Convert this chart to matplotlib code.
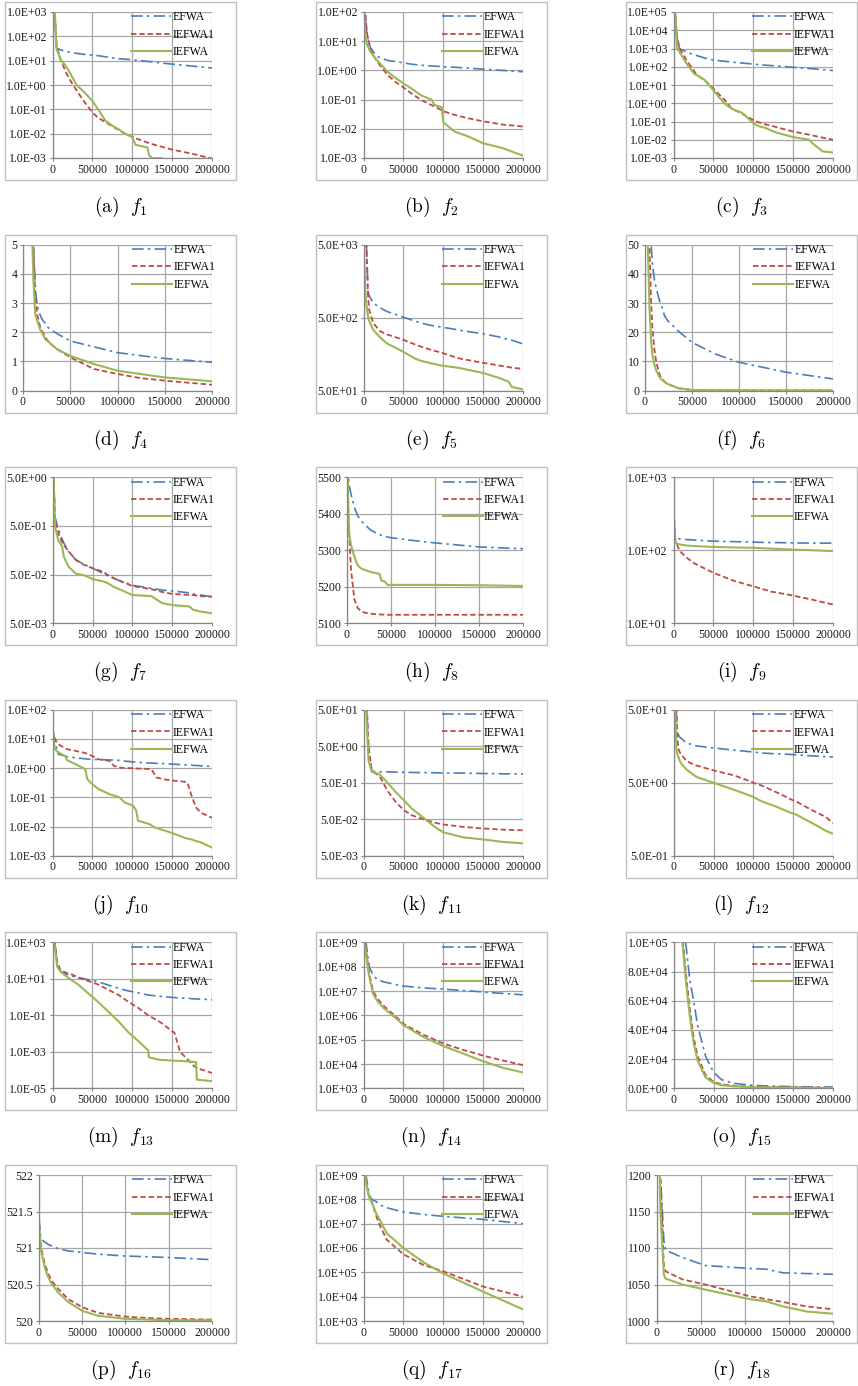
"""Convergence curves of EFWA / IEFWA1 / IEFWA on f1..f18, redrawn as an 6x3 grid."""

import matplotlib

matplotlib.use("Agg")
import matplotlib.pyplot as plt
import numpy as np
from matplotlib.patches import Rectangle
from matplotlib.ticker import FixedLocator, FuncFormatter, NullLocator

nan = np.nan

# ---------------------------------------------------------------------------
# Data (function evaluations vs. best fitness)
# ---------------------------------------------------------------------------

F1_X = [0, 2000, 5000, 10000, 15000, 20000, 30000, 40000, 50000, 57000, 66000, 75000,
        83000, 91000, 100000, 104000, 119000, 121000, 125000, 137000, 150000, 175000, 200000]
F1_EFWA = [5000, 1200, 32, 28, 25, 23, 20, 18, 17, 16, 14.5, 13,
           12, 11.5, 11, 10.5, 9.3, 9.2, 9, 8, 7.2, 6, 5]
F1_IEFWA1 = [5000, 3000, 40, 11, 4.5, 2.0, 0.6, 0.2, 0.074, 0.045, 0.03, 0.02,
             0.014, 0.01, 0.0075, 0.0065, 0.0043, 0.0041, 0.0037, 0.0029, 0.0022, 0.0015, 0.00095]
F1_IEFWA = [5000, 3000, 30, 11, 7, 4, 1.0, 0.5, 0.22, 0.1, 0.035, 0.021,
            0.015, 0.01, 0.0072, 0.0035, 0.0027, 0.0013, 0.00099, 0.00098, nan, nan, nan]

F2_X = [0, 2000, 4000, 8500, 13000, 17000, 30000, 40000, 51000, 59000, 72000, 85000,
        89000, 98000, 100000, 114000, 131000, 150000, 174000, 200000]
F2_EFWA = [300, 100, 18, 6, 4, 3, 2.2, 2.0, 1.8, 1.65, 1.5, 1.42,
           1.4, 1.35, 1.33, 1.28, 1.2, 1.1, 1.0, 0.9]
F2_IEFWA1 = [300, 100, 20, 5, 3, 2.0, 0.7, 0.4, 0.25, 0.17, 0.098, 0.065,
             0.058, 0.043, 0.04, 0.03, 0.023, 0.018, 0.014, 0.012]
F2_IEFWA = [150, 18, 8, 4.3, 3, 2.2, 0.9, 0.55, 0.34, 0.25, 0.14, 0.1,
            0.065, 0.055, 0.017, 0.008, 0.0055, 0.0032, 0.0022, 0.0012]

F3_X = [0, 2000, 4000, 7000, 9000, 18000, 26000, 30000, 39000, 50000, 64000, 73000,
        86000, 100000, 107000, 115000, 124000, 130000, 150000, 170000, 175000, 187000, 200000]
F3_EFWA = [1e6, 1e5, 5000, 1100, 900, 600, 450, 400, 300, 230, 200, 180,
           160, 140, 130, 122, 115, 110, 93, 80, 77, 70, 62]
F3_IEFWA1 = [1e6, 1e5, 5000, 1200, 750, 175, 55, 33, 18, 6.3, 1.5, 0.5,
             0.27, 0.12, 0.09, 0.07, 0.056, 0.048, 0.028, 0.019, 0.017, 0.013, 0.01]
F3_IEFWA = [1e6, 1e5, 1100, 700, 490, 115, 40, 33, 19, 5, 0.95, 0.5,
            0.3, 0.08, 0.055, 0.045, 0.03, 0.024, 0.014, 0.01, 0.006, 0.0023, 0.002]

F4_X = [0, 10000, 11000, 13000, 15000, 18000, 20000, 23500, 25000, 29000, 36000,
        50000, 75000, 100000, 124000, 150000, 200000]
F4_EFWA = [20, 8, 5, 3.5, 2.9, 2.6, 2.45, 2.3, 2.2, 2.1, 1.95, 1.7, 1.5, 1.3, 1.2, 1.1, 0.97]
F4_IEFWA1 = [20, 8, 5, 3.2, 2.6, 2.2, 2.05, 1.85, 1.76, 1.6, 1.42, 1.14, 0.74, 0.57, 0.43, 0.34, 0.2]
F4_IEFWA = [20, 5, 3.8, 2.6, 2.4, 2.1, 2.0, 1.76, 1.72, 1.62, 1.42, 1.19, 0.91, 0.68, 0.57, 0.45, 0.32]

F5_X = [0, 2500, 3500, 5500, 7000, 12000, 21000, 29000, 49000, 64000, 72000, 85000,
        98000, 115000, 120000, 146000, 150000, 171000, 182000, 186000, 200000]
F5_EFWA = [2e4, 8000, 5000, 1145, 1000, 790, 680, 608, 510, 450, 420, 390,
           370, 345, 335, 305, 300, 270, 250, 245, 218]
F5_IEFWA1 = [2e4, 1e4, 5000, 1000, 640, 420, 324, 295, 250, 215, 200, 180,
             165, 143, 138, 122, 120, 110, 105, 103, 99]
F5_IEFWA = [5000, 975, 750, 520, 450, 340, 265, 222, 172, 138, 128, 118,
            110, 104, 102, 89, 87, 74, 66, 56, 52]

F6_X = [0, 3000, 4700, 6500, 8000, 10000, 12000, 15500, 17000, 21000, 24000, 35000,
        50000, 75000, 100000, 150000, 200000]
F6_EFWA = [200, 100, 70, 50, 43, 38, 35, 30.7, 29.5, 25.5, 24, 20.5, 16.5, 12.5, 9.7, 6.3, 4]
F6_IEFWA1 = [200, 80, 50, 30, 21, 14, 9.7, 5.5, 4.5, 3.0, 2.3, 0.8, 0.2, 0.1, 0.08, 0.06, 0.05]
F6_IEFWA = [200, 50, 29, 17, 12, 9, 6.8, 4.6, 4, 2.9, 2.3, 0.9, 0.2, 0.1, 0.08, 0.06, 0.05]

F7_X = [0, 1000, 3000, 7000, 11700, 14000, 20000, 29000, 40000, 50600, 63600, 68000,
        76600, 81000, 100000, 124000, 137000, 150000, 172000, 176000, 185000, 200000]
F7_EFWA = [20, 5, 0.76, 0.42, 0.27, 0.22, 0.148, 0.1, 0.08, 0.067, 0.052, 0.048,
           0.042, 0.039, 0.03, 0.026, 0.024, 0.023, 0.021, 0.02, 0.019, 0.0175]
F7_IEFWA1 = [20, 5, 0.62, 0.36, 0.23, 0.2, 0.15, 0.1, 0.078, 0.067, 0.057, 0.05,
             0.042, 0.039, 0.029, 0.025, 0.022, 0.02, 0.019, 0.019, 0.018, 0.0175]
F7_IEFWA = [20, 5, 0.47, 0.25, 0.19, 0.115, 0.072, 0.052, 0.048, 0.04, 0.036, 0.034,
            0.028, 0.026, 0.019, 0.018, 0.013, 0.0118, 0.011, 0.0095, 0.0087, 0.008]

F8_X = [0, 700, 1500, 2000, 2700, 4600, 8400, 12000, 16000, 20000, 27600, 35000,
        37000, 39000, 43000, 46000, 50600, 73600, 100000, 150000, 200000]
F8_EFWA = [5600, 5560, 5500, 5490, 5475, 5453, 5417, 5395, 5381, 5370, 5354, 5345,
           5343, 5341, 5338, 5336, 5334, 5327, 5320, 5309, 5304]
F8_IEFWA1 = [5600, 5500, 5420, 5370, 5336, 5246, 5165, 5142, 5133, 5129, 5126, 5124,
             5124, 5124, 5123, 5123, 5123, 5123, 5123, 5123, 5123]
F8_IEFWA = [5600, 5500, 5400, 5363, 5340, 5314, 5282, 5259, 5250, 5246, 5240, 5236,
            5235, 5217, 5214, 5205, 5205, 5205, 5205, 5204, 5202]

F9_X = [0, 1700, 2500, 7700, 16000, 25000, 50000, 76000, 100000, 123000, 132000,
        149000, 174000, 200000]
F9_EFWA = [442, 147, 146, 143, 140, 138, 133, 131, 129, 127, 127, 126, 125, 125]
F9_IEFWA1 = [442, 160, 133, 98, 80, 67, 49, 38, 32, 27, 26, 24, 21, 18]
F9_IEFWA = [442, 135, 126, 120, 116, 114, 111, 109, 108, 105, 104, 102, 100, 97]

F10_X = [0, 2000, 3000, 5000, 7200, 15700, 18000, 33000, 41000, 43500, 50000, 58000,
         71000, 77000, 84000, 90000, 101000, 105000, 107000, 122000, 124000, 128000,
         130000, 143000, 150000, 167000, 169000, 175000, 180000, 186000, 200000]
F10_EFWA = [19, 11, 8.7, 5, 3.0, 2.6, 2.5, 2.2, 2.1, 2.05, 2.0, 1.97,
            1.92, 1.9, 1.85, 1.75, 1.65, 1.62, 1.6, 1.5, 1.5, 1.48,
            1.47, 1.42, 1.38, 1.3, 1.29, 1.26, 1.24, 1.21, 1.15]
F10_IEFWA1 = [21.7, 12, 10, 8, 6.6, 4.8, 4.5, 3.7, 3.3, 3.1, 2.6, 2.0,
              1.8, 1.2, 1.05, 1.02, 1.0, 0.98, 0.97, 0.94, 0.93, 0.6,
              0.48, 0.4, 0.38, 0.34, 0.33, 0.1, 0.045, 0.03, 0.02]
F10_IEFWA = [21.7, 6.6, 4.5, 3.9, 3.5, 2.6, 1.9, 1.2, 0.93, 0.42, 0.28, 0.19,
             0.13, 0.115, 0.1, 0.068, 0.052, 0.035, 0.016, 0.012, 0.011, 0.0093,
             0.009, 0.007, 0.006, 0.004, 0.0039, 0.0036, 0.0032, 0.0029, 0.0019]

F11_X = [0, 3000, 6000, 10000, 12000, 20000, 30000, 40000, 50000, 60000, 75000,
         90000, 100000, 125000, 150000, 175000, 200000]
F11_EFWA = [500, 100, 5, 1.05, 1.03, 1.0, 1.0, 0.98, 0.97, 0.96, 0.95,
            0.94, 0.93, 0.92, 0.9, 0.88, 0.87]
F11_IEFWA1 = [500, 200, 5, 1.1, 1.0, 0.75, 0.3, 0.15, 0.09, 0.065, 0.05,
              0.04, 0.036, 0.031, 0.028, 0.026, 0.025]
F11_IEFWA = [500, 50, 2, 1.0, 0.98, 0.85, 0.5, 0.28, 0.17, 0.1, 0.055,
             0.03, 0.022, 0.016, 0.014, 0.012, 0.011]

F12_X = [0, 1700, 3400, 4300, 5500, 7700, 10000, 16000, 25000, 29000, 50000, 76000,
         97000, 100000, 110000, 127000, 149000, 153000, 174000, 191000, 200000]
F12_EFWA = [200, 100, 40, 25, 23, 21, 20, 17.5, 16.5, 16, 15, 14,
            13.3, 13.2, 12.8, 12.5, 12.2, 12.1, 11.7, 11.4, 11.3]
F12_IEFWA1 = [200, 150, 50, 25, 15, 13, 12, 9.9, 8.9, 8.6, 7.4, 6.3,
              5.2, 5.0, 4.6, 3.8, 2.9, 2.8, 2.1, 1.7, 1.4]
F12_IEFWA = [100, 50, 14.3, 12.5, 11.5, 9.9, 9, 7.6, 6.4, 6.0, 5.0, 4.0,
             3.3, 3.2, 2.8, 2.4, 1.9, 1.85, 1.4, 1.1, 1.0]

F13_X = [0, 3000, 6000, 10000, 19000, 25000, 32000, 57000, 83000, 95000, 108000,
         120000, 121000, 134000, 153000, 160000, 172000, 178000, 180000, 181000, 200000]
F13_EFWA = [1e4, 1000, 60, 25, 17, 14, 12, 7, 3, 2.2, 1.7,
            1.3, 1.3, 1.1, 0.95, 0.9, 0.85, 0.8, 0.8, 0.8, 0.72]
F13_IEFWA1 = [1e4, 1000, 80, 30, 20, 17, 12, 5, 1.3, 0.56, 0.25,
              0.1, 0.095, 0.046, 0.011, 0.001, 3e-4, 1.6e-4, 1.4e-4, 1.3e-4, 7e-5]
F13_IEFWA = [1e4, 500, 45, 25, 12, 8, 5, 0.56, 0.046, 0.012, 3.8e-3,
             1.2e-3, 5e-4, 3.7e-4, 3.3e-4, 3.2e-4, 3e-4, 2.8e-4, 2.8e-4, 3e-5, 2.5e-5]

F14_X = [0, 3000, 7000, 12000, 17000, 25000, 42000, 50000, 75000, 100000, 125000,
         145000, 150000, 175000, 200000]
F14_EFWA = [1e10, 1e9, 1e8, 4.5e7, 3e7, 2.4e7, 1.8e7, 1.6e7, 1.35e7, 1.2e7, 1.05e7,
            9.5e6, 9e6, 8e6, 7e6]
F14_IEFWA1 = [1e10, 5e8, 5e7, 1e7, 5e6, 2.5e6, 8e5, 4.5e5, 1.6e5, 7e4, 3.8e4,
              2.5e4, 2.2e4, 1.4e4, 9e3]
F14_IEFWA = [1e10, 3e8, 4e7, 7.5e6, 4e6, 2e6, 7e5, 4e5, 1.3e5, 5.5e4, 2.7e4,
             1.5e4, 1.3e4, 7e3, 4.5e3]

F15_X = [0, 10000, 15000, 20000, 25000, 30000, 40000, 50000, 60000, 75000, 100000,
         150000, 200000]
F15_EFWA = [3e5, 1.5e5, 1e5, 7.5e4, 6e4, 4.3e4, 2.2e4, 1.1e4, 6e3, 3.5e3, 2e3, 1.2e3, 900]
F15_IEFWA1 = [3e5, 1.1e5, 8e4, 5.5e4, 3.5e4, 2.2e4, 9e3, 4.5e3, 2.8e3, 1.8e3, 1e3, 700, 500]
F15_IEFWA = [3e5, 1.05e5, 7.5e4, 5e4, 3.1e4, 1.9e4, 7.5e3, 3.8e3, 2.2e3, 1.5e3, 800, 500, 300]

F16_X = [0, 2300, 3100, 7000, 10900, 14800, 22500, 34000, 50000, 69000, 100000,
         127000, 150000, 200000]
F16_EFWA = [521.41, 521.14, 521.12, 521.08, 521.05, 521.03, 520.99, 520.96, 520.94,
            520.915, 520.89, 520.88, 520.87, 520.84]
F16_IEFWA1 = [521.43, 521.05, 520.98, 520.78, 520.65, 520.55, 520.44, 520.30, 520.19,
              520.11, 520.06, 520.04, 520.03, 520.02]
F16_IEFWA = [521.43, 521.0, 520.94, 520.73, 520.60, 520.51, 520.39, 520.26, 520.14,
             520.07, 520.03, 520.02, 520.01, 520.01]

F17_X = [0, 3000, 7000, 10000, 16000, 20000, 29000, 50000, 75000, 100000, 150000, 200000]
F17_EFWA = [1e10, 1e9, 1.5e8, 1e8, 8e7, 6e7, 4.5e7, 3e7, 2.4e7, 2e7, 1.5e7, 1e7]
F17_IEFWA1 = [1e10, 5e8, 1.2e8, 8e7, 2e7, 9e6, 2.2e6, 5.5e5, 2e5, 1.1e5, 2.6e4, 1e4]
F17_IEFWA = [1e10, 5e8, 1.2e8, 8e7, 2.5e7, 1.5e7, 4e6, 1e6, 2.6e5, 9e4, 1.6e4, 3e3]

F18_X = [0, 4000, 8000, 10000, 29000, 55000, 105000, 124000, 143000, 170000, 200000]
F18_EFWA = [1400, 1200, 1110, 1097, 1087, 1076, 1072, 1071, 1066, 1065, 1064]
F18_IEFWA1 = [1400, 1200, 1073, 1068, 1057, 1050, 1034, 1030, 1026, 1020, 1016]
F18_IEFWA = [1400, 1150, 1063, 1058, 1050, 1043, 1030, 1027, 1020, 1013, 1010]

SERIES = ["EFWA", "IEFWA1", "IEFWA"]
X_TICKS = [0, 50000, 100000, 150000, 200000]


def log_ticks(lo, hi, mant=1.0, step=1):
    return [mant * 10.0 ** e for e in range(lo, hi + 1, step)]


def lin_ticks(lo, hi, step):
    return list(np.arange(lo, hi + step / 2, step))


# tag, function index, x, (EFWA, IEFWA1, IEFWA), y scale, y ticks, label format
PANELS = [
    ("a", 1, F1_X, (F1_EFWA, F1_IEFWA1, F1_IEFWA), "log", log_ticks(-3, 3), "sci"),
    ("b", 2, F2_X, (F2_EFWA, F2_IEFWA1, F2_IEFWA), "log", log_ticks(-3, 2), "sci"),
    ("c", 3, F3_X, (F3_EFWA, F3_IEFWA1, F3_IEFWA), "log", log_ticks(-3, 5), "sci"),
    ("d", 4, F4_X, (F4_EFWA, F4_IEFWA1, F4_IEFWA), "linear", lin_ticks(0, 5, 1), "num"),
    ("e", 5, F5_X, (F5_EFWA, F5_IEFWA1, F5_IEFWA), "log", log_ticks(1, 3, 5.0), "sci"),
    ("f", 6, F6_X, (F6_EFWA, F6_IEFWA1, F6_IEFWA), "linear", lin_ticks(0, 50, 10), "num"),
    ("g", 7, F7_X, (F7_EFWA, F7_IEFWA1, F7_IEFWA), "log", log_ticks(-3, 0, 5.0), "sci"),
    ("h", 8, F8_X, (F8_EFWA, F8_IEFWA1, F8_IEFWA), "linear", lin_ticks(5100, 5500, 100), "num"),
    ("i", 9, F9_X, (F9_EFWA, F9_IEFWA1, F9_IEFWA), "log", log_ticks(1, 3), "sci"),
    ("j", 10, F10_X, (F10_EFWA, F10_IEFWA1, F10_IEFWA), "log", log_ticks(-3, 2), "sci"),
    ("k", 11, F11_X, (F11_EFWA, F11_IEFWA1, F11_IEFWA), "log", log_ticks(-3, 1, 5.0), "sci"),
    ("l", 12, F12_X, (F12_EFWA, F12_IEFWA1, F12_IEFWA), "log", log_ticks(-1, 1, 5.0), "sci"),
    ("m", 13, F13_X, (F13_EFWA, F13_IEFWA1, F13_IEFWA), "log", log_ticks(-5, 3, step=2), "sci"),
    ("n", 14, F14_X, (F14_EFWA, F14_IEFWA1, F14_IEFWA), "log", log_ticks(3, 9), "sci"),
    ("o", 15, F15_X, (F15_EFWA, F15_IEFWA1, F15_IEFWA), "linear", lin_ticks(0, 1e5, 2e4), "sci"),
    ("p", 16, F16_X, (F16_EFWA, F16_IEFWA1, F16_IEFWA), "linear", lin_ticks(520, 522, 0.5), "num"),
    ("q", 17, F17_X, (F17_EFWA, F17_IEFWA1, F17_IEFWA), "log", log_ticks(3, 9), "sci"),
    ("r", 18, F18_X, (F18_EFWA, F18_IEFWA1, F18_IEFWA), "linear", lin_ticks(1000, 1200, 50), "num"),
]

# ---------------------------------------------------------------------------
# Styling / layout (pixels of the 858x1386 canvas)
# ---------------------------------------------------------------------------

W, H = 858, 1386
COL_LEFT = [5, 316, 626]
FRAME_W = 231
RIGHT_GAP = 24
ROW_TOP = 12
ROW_STEP = 232.6
PLOT_H = 146

LINE_STYLE = {
    "EFWA": dict(color="#4a7ebb", lw=1.2, dashes=(7, 2.5, 1.5, 2.5)),
    "IEFWA1": dict(color="#be4b48", lw=1.3, dashes=(3, 1.6)),
    "IEFWA": dict(color="#98b954", lw=1.5),
}
GRID_C = "#a6a6a6"
AXIS_C = "#868686"
FRAME_C = "#bfbfbf"

plt.rcParams["font.family"] = ["Liberation Serif", "DejaVu Serif"]
plt.rcParams["mathtext.fontset"] = "cm"


def fmt_for(kind):
    if kind == "sci":
        return FuncFormatter(lambda v, _: f"{v:.1E}")
    return FuncFormatter(lambda v, _: f"{v:g}")


def fx(px):
    return px / W


def fy(px):
    return 1 - px / H


fig = plt.figure(figsize=(W / 100, H / 100), dpi=100)

axes = []
for i, (tag, fn, x, ys, scale, ticks, kind) in enumerate(PANELS):
    row, col = divmod(i, 3)
    top = ROW_TOP + row * ROW_STEP
    left = COL_LEFT[col]
    right = left + FRAME_W - RIGHT_GAP

    # Excel-style chart frame
    fig.add_artist(Rectangle(
        (fx(left), fy(top + PLOT_H + 22)), fx(FRAME_W), (PLOT_H + 32) / H,
        transform=fig.transFigure, fill=False, edgecolor=FRAME_C, lw=1.0,
    ))

    ax = fig.add_axes([fx(left + 50), fy(top + PLOT_H), fx(right - left - 50), PLOT_H / H])
    for name, y in zip(SERIES, ys):
        ax.plot(x, y, label=name, **LINE_STYLE[name])

    ax.set_yscale(scale)
    ax.set_xlim(0, 200000)
    ax.set_ylim(ticks[0], ticks[-1])
    ax.xaxis.set_major_locator(FixedLocator(X_TICKS))
    ax.xaxis.set_major_formatter(FuncFormatter(lambda v, _: f"{v:.0f}"))
    ax.yaxis.set_major_locator(FixedLocator(ticks))
    ax.yaxis.set_major_formatter(fmt_for(kind))
    ax.yaxis.set_minor_locator(NullLocator())
    ax.xaxis.set_minor_locator(NullLocator())

    ax.grid(True, color=GRID_C, lw=0.9)
    ax.set_axisbelow(True)
    for side in ("top", "right"):
        ax.spines[side].set_visible(False)
    for side in ("left", "bottom"):
        ax.spines[side].set_color(AXIS_C)
        ax.spines[side].set_linewidth(0.9)
    ax.tick_params(length=2.5, width=0.8, color=AXIS_C, pad=1.5, labelsize=8.5,
                   labelcolor="#1a1a1a")

    ax.legend(
        loc="upper right", bbox_to_anchor=(1.03, 1.02), frameon=False,
        fontsize=8.5, handlelength=3.4, handletextpad=0.1, labelspacing=0.45,
        borderaxespad=0, borderpad=0.2,
    )

    fig.text(fx(left + FRAME_W / 2), fy(top + PLOT_H + 49),
             rf"$\mathrm{{({tag})}}\ \ f_{{{fn}}}$",
             ha="center", va="center", fontsize=14)
    axes.append((ax, left, right, top))

# Shift each plot area so its y tick labels sit just inside the frame.
fig.canvas.draw()
renderer = fig.canvas.get_renderer()
for ax, left, right, top in axes:
    w = max(t.get_window_extent(renderer).width
            for t in ax.get_yticklabels() if t.get_text())
    x0 = left + max(w + 7, 18)
    ax.set_position([fx(x0), fy(top + PLOT_H), fx(right - x0), PLOT_H / H])

fig.savefig("out.png", dpi=100)
